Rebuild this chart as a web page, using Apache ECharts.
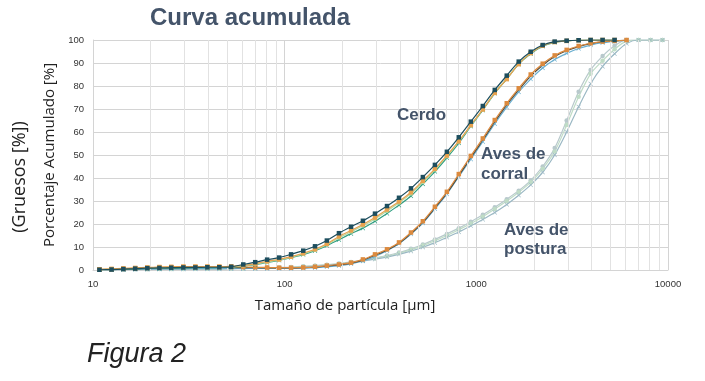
<!DOCTYPE html>
<html>
<head>
<meta charset="utf-8">
<script src="https://cdn.jsdelivr.net/npm/echarts@6/dist/echarts.min.js"></script>
<style>
  html, body { margin: 0; padding: 0; background: #fff; }
  #chart { width: 705px; height: 381px; }
</style>
</head>
<body>
<div id="chart"></div>
<script>
// tamaños de partícula [µm] (eje x log)
const sizes = [10.8, 12.5, 14.4, 16.6, 19.2, 22.2, 25.6, 29.6, 34.2, 39.5, 45.6, 52.6,
  60.8, 70.2, 81.0, 93.6, 108, 125, 144, 166, 192, 222, 256, 296, 342, 395, 456, 526,
  608, 702, 810, 936, 1081, 1248, 1441, 1664, 1922, 2219, 2563, 2960, 3418, 3947,
  4558, 5264, 6079, 7020, 8107, 9362]

// Cerdo
const cerdoA = [0.1, 0.2, 0.4, 0.6, 0.8, 0.9, 1.0, 1.1, 1.1, 1.2, 1.2, 1.4, 2.4, 3.4, 4.5, 5.4,
  6.8, 8.4, 10.3, 12.8, 16.0, 18.8, 21.4, 24.5, 27.8, 31.4, 35.5, 40.4, 45.7, 51.4, 57.7,
  64.5, 71.3, 78.3, 84.5, 90.6, 94.9, 97.8, 99.3, 99.7, 99.9, 100, 100, 100]
const cerdoB = [0.3, 0.5, 0.7, 0.9, 1.1, 1.3, 1.4, 1.5, 1.5, 1.5, 1.5, 1.6, 2.0, 2.8, 3.8, 4.6,
  5.8, 7.3, 9.0, 11.4, 14.6, 17.2, 19.8, 22.8, 26.3, 29.8, 33.8, 38.8, 44.0, 49.8, 56.0,
  63.0, 69.8, 77.0, 83.0, 89.5, 94.3, 97.5, 99.1, 99.6, 99.9, 100, 100, 100]
const cerdoC = [0.2, 0.3, 0.5, 0.7, 0.9, 1.0, 1.1, 1.2, 1.2, 1.3, 1.3, 1.4, 1.8, 2.5, 3.5, 4.4,
  5.6, 7.0, 8.7, 11.0, 14.0, 16.6, 19.2, 22.2, 25.6, 29.2, 33.2, 38.2, 43.6, 49.4, 55.8,
  62.8, 69.8, 77.0, 83.2, 89.6, 94.3, 97.5, 99.1, 99.6, 99.9, 100, 100, 100]
const cerdoD = [0.1, 0.2, 0.3, 0.5, 0.6, 0.7, 0.8, 0.9, 1.0, 1.0, 1.1, 1.2, 1.7, 2.3, 3.3, 4.2,
  5.4, 6.7, 8.4, 10.6, 13.2, 15.8, 18.2, 21.2, 24.6, 28.2, 32.2, 37.4, 42.8, 48.8, 55.2,
  62.5, 69.5, 76.8, 83.0, 89.5, 94.0, 97.3, 99.0, 99.6, 99.9, 100, 100, 100]

// Aves de corral
const corralA = [0.2, 0.3, 0.5, 0.7, 0.9, 1.1, 1.2, 1.3, 1.3, 1.3, 1.3, 1.3, 1.3, 1.2, 1.1, 1.0,
  1.0, 1.1, 1.4, 1.9, 2.4, 3.2, 4.6, 6.8, 9.0, 12.0, 16.3, 21.2, 27.5, 34.0, 41.7, 49.6,
  57.2, 65.2, 72.5, 79.0, 85.0, 89.7, 93.3, 95.7, 97.4, 98.6, 99.3, 99.6, 100]
const corralB = [0.1, 0.2, 0.4, 0.5, 0.7, 0.9, 1.0, 1.0, 1.1, 1.1, 1.1, 1.1, 1.0, 1.0, 0.9, 0.9,
  0.9, 1.0, 1.2, 1.7, 2.2, 3.0, 4.3, 6.4, 8.6, 11.6, 15.8, 20.7, 27.0, 33.4, 41.0, 48.9,
  56.5, 64.4, 71.8, 78.3, 84.3, 89.0, 92.8, 95.3, 97.1, 98.4, 99.2, 99.6, 100]
const corralC = [0.1, 0.1, 0.2, 0.3, 0.4, 0.5, 0.6, 0.6, 0.7, 0.7, 0.7, 0.7, 0.7, 0.7, 0.7, 0.7,
  0.7, 0.8, 1.0, 1.4, 1.9, 2.7, 3.9, 5.9, 8.4, 11.4, 15.6, 20.4, 26.6, 33.0, 40.6, 48.2,
  55.8, 63.6, 70.8, 77.4, 83.0, 87.8, 91.5, 94.2, 96.3, 97.8, 98.8, 99.4, 99.9]

// Aves de postura
const posturaA = [0.2, 0.2, 0.3, 0.3, 0.3, 0.4, 0.4, 0.4, 0.5, 0.5, 0.5, 0.6, 0.7, 0.8, 0.9, 1.0,
  1.2, 1.5, 1.8, 2.2, 2.7, 3.4, 4.2, 5.0, 6.0, 7.3, 8.8, 10.6, 12.7, 15.0, 17.5, 20.2,
  23.2, 26.5, 30.0, 33.8, 38.2, 44.0, 51.5, 63.0, 75.3, 85.3, 91.0, 96.0, 99.5, 100, 100, 100]
const posturaB = [0.1, 0.1, 0.2, 0.2, 0.2, 0.3, 0.3, 0.3, 0.4, 0.4, 0.4, 0.5, 0.6, 0.7, 0.8, 0.9,
  1.0, 1.3, 1.6, 2.0, 2.5, 3.1, 3.9, 4.7, 5.6, 6.8, 8.2, 9.9, 11.9, 14.2, 16.5, 19.2,
  22.0, 25.0, 28.5, 32.5, 37.0, 42.5, 50.0, 60.0, 71.0, 81.0, 88.5, 94.0, 98.5, 100, 100, 100]
const posturaC = [0.3, 0.3, 0.4, 0.4, 0.5, 0.5, 0.5, 0.6, 0.6, 0.6, 0.7, 0.7, 0.8, 0.9, 1.0, 1.1,
  1.3, 1.6, 1.9, 2.3, 2.8, 3.5, 4.3, 5.2, 6.3, 7.6, 9.2, 11.1, 13.3, 15.7, 18.2, 21.0,
  24.0, 27.3, 30.8, 34.5, 39.0, 45.0, 53.0, 65.0, 77.5, 87.0, 93.0, 97.5, 100, 100, 100, 100]

const xTicks = [10, 100, 1000, 10000]
const minorLines = [20, 30, 40, 50, 60, 70, 80, 90, 200, 300, 400, 500, 600, 700, 800, 900,
  2000, 3000, 4000, 5000, 6000, 7000, 8000, 9000]

const crossPath = 'path://M0,1L1,0L5,4L9,0L10,1L6,5L10,9L9,10L5,6L1,10L0,9L4,5Z'

function pairs (vals) {
  return vals.map((v, i) => [sizes[i], v])
}

function curve (name, vals, color, symbol, size, z) {
  return {
    name: name,
    type: 'line',
    data: pairs(vals),
    smooth: 0.3,
    symbol: symbol,
    symbolSize: size,
    showSymbol: symbol !== 'none',
    lineStyle: { color: color, width: 1.2 },
    itemStyle: { color: color },
    z: z,
    silent: true
  }
}

const chart = echarts.init(document.getElementById('chart'), null, { renderer: 'canvas' })

chart.setOption({
  animation: false,
  backgroundColor: '#ffffff',
  textStyle: { fontFamily: 'Liberation Sans, Arial, sans-serif' },
  title: {
    text: 'Curva acumulada',
    left: 145,
    top: 1,
    textStyle: { fontSize: 24, fontWeight: 'bold', color: '#44546a', fontFamily: 'Liberation Sans, Arial, sans-serif' }
  },
  grid: { left: 93, right: 37, top: 40, bottom: 111 },
  xAxis: {
    type: 'log',
    logBase: 10,
    min: 10,
    max: 10000,
    axisLine: { show: true, lineStyle: { color: '#d4d4d4' } },
    axisTick: { show: false },
    axisLabel: {
      fontSize: 9.5,
      color: '#333',
      margin: 9,
      formatter: v => (xTicks.indexOf(Math.round(v)) >= 0 ? String(Math.round(v)) : '')
    },
    splitLine: { show: true, lineStyle: { color: '#d4d4d4', width: 1 } }
  },
  yAxis: {
    type: 'value',
    min: 0,
    max: 100,
    interval: 10,
    name: 'Porcentaje Acumulado [%]',
    nameLocation: 'middle',
    nameGap: 20,
    nameTextStyle: { fontSize: 15, color: '#222', fontFamily: 'Open Sans, sans-serif' },
    axisLine: { show: true, lineStyle: { color: '#d4d4d4' } },
    axisTick: { show: false },
    axisLabel: { fontSize: 9.5, color: '#333', margin: 9 },
    splitLine: { show: true, lineStyle: { color: '#d4d4d4', width: 1 } }
  },
  graphic: [
    {
      type: 'text', left: 397, top: 107, z: 100,
      style: { text: 'Cerdo', fill: '#44546a', font: 'bold 17px "Liberation Sans", Arial, sans-serif' }
    },
    {
      type: 'text', left: 481, top: 144, z: 100,
      style: { text: 'Aves de\ncorral', fill: '#44546a', lineHeight: 20, font: 'bold 17px "Liberation Sans", Arial, sans-serif' }
    },
    {
      type: 'text', left: 504, top: 221, z: 100,
      style: { text: 'Aves de\npostura', fill: '#44546a', lineHeight: 19, font: 'bold 17px "Liberation Sans", Arial, sans-serif' }
    },
    {
      type: 'text', x: 345, y: 306, z: 100,
      style: {
        text: 'Tamaño de partícula [µm]', fill: '#222', align: 'center', verticalAlign: 'middle',
        font: '15px "Open Sans", sans-serif'
      }
    },
    {
      type: 'text', x: 20, y: 177, rotation: Math.PI / 2, z: 100,
      style: {
        text: '(Gruesos [%])', fill: '#222', align: 'center', verticalAlign: 'middle',
        font: '18px "Open Sans", sans-serif'
      }
    },
    {
      type: 'text', left: 87, top: 341, z: 100,
      style: { text: 'Figura 2', fill: '#222', font: 'italic 27px "Liberation Sans", Arial, sans-serif' }
    }
  ],
  series: [
    {
      name: 'grid-minor',
      type: 'line',
      data: [],
      z: 1,
      silent: true,
      markLine: {
        silent: true,
        symbol: ['none', 'none'],
        label: { show: false },
        lineStyle: { color: '#e2e2e2', width: 1, type: 'solid' },
        data: minorLines.map(v => ({ xAxis: v }))
      }
    },
    curve('Postura C', posturaC, '#b8c9cc', 'circle', 4.5, 3),
    curve('Postura A', posturaA, '#bfdcc6', 'circle', 4.5, 3),
    curve('Postura B', posturaB, '#9bb8c4', crossPath, 4.5, 3),
    curve('Corral C', corralC, '#6aaecf', crossPath, 4.5, 4),
    curve('Corral B', corralB, '#4f4a3c', 'none', 4, 4),
    curve('Corral A', corralA, '#dc8a3e', 'rect', 4.5, 5),
    curve('Cerdo D', cerdoD, '#2f9e80', crossPath, 4.5, 6),
    curve('Cerdo C', cerdoC, '#b8d8a0', 'circle', 4, 6),
    curve('Cerdo B', cerdoB, '#e8a24e', 'rect', 4.5, 7),
    curve('Cerdo A', cerdoA, '#1d4e5e', 'rect', 4.5, 8)
  ]
})
</script>
</body>
</html>
